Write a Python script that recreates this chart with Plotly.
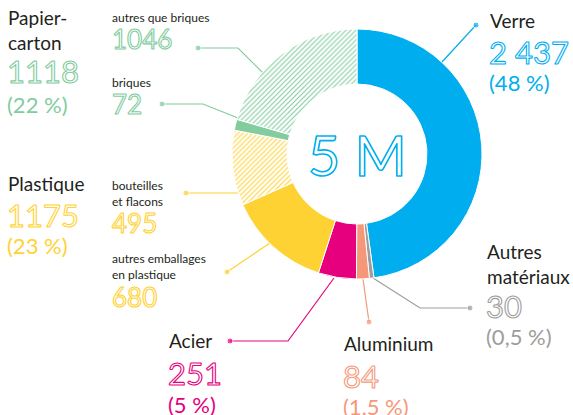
import plotly.graph_objects as go

# ---- data ----
categories = ["Verre", "Autres matériaux", "Aluminium", "Acier",
              "autres emballages en plastique", "bouteilles et flacons",
              "briques", "autres que briques"]
values = [2437, 30, 84, 251, 680, 495, 72, 1046]
value_labels = ["2 437", "30", "84", "251", "680", "495", "72", "1046"]
group_names = ["Papier-<br>carton", "Plastique"]
group_values = ["1118", "1175"]
group_pcts = ["(22 %)", "(23 %)"]
pct_labels = {"Verre": "(48 %)", "Autres matériaux": "(0,5 %)",
              "Aluminium": "(1,5 %)", "Acier": "(5 %)"}
center_label = "5 M"

# ---- styles ----
BLUE, GREY, SALMON, MAGENTA = "#00AEEF", "#9D9D9C", "#F5987A", "#E6007E"
YELLOW, GREEN = "#FFD233", "#82CC9E"
colors = [BLUE, GREY, SALMON, MAGENTA, YELLOW, YELLOW, GREEN, GREEN]
shapes = ["", "", "", "", "", "/", "", "/"]
DARK = "#231F20"
FONT = "Lato"

W, H = 573, 415
cx, cy, R = 357, 154, 125

fig = go.Figure()
fig.add_trace(go.Pie(
    values=values, labels=categories, sort=False, direction="clockwise",
    rotation=0, hole=0.56, textinfo="none", hoverinfo="skip",
    showlegend=False,
    marker=dict(colors=colors, line=dict(color="white", width=1),
                pattern=dict(shape=shapes, size=3.5, solidity=0.3)),
    domain=dict(x=[(cx - R) / W, (cx + R) / W],
                y=[1 - (cy + R) / H, 1 - (cy - R) / H]),
))

# leader lines: (points from dot to slice edge, colour)
leaders = [
    ([(476, 25), (442, 62)], BLUE),
    ([(470, 308), (420, 308), (373, 278)], GREY),
    ([(369, 322), (363, 279)], SALMON),
    ([(230, 341), (288, 341), (334, 278)], MAGENTA),
    ([(227, 272), (270, 243)], YELLOW),
    ([(186, 193), (238, 193)], YELLOW),
    ([(162, 104), (203, 104), (238, 118)], GREEN),
    ([(198, 48), (238, 48), (263, 73)], GREEN),
]
for pts, col in leaders:
    fig.add_trace(go.Scatter(
        x=[p[0] for p in pts], y=[p[1] for p in pts], mode="lines+markers",
        line=dict(color=col, width=1.2),
        marker=dict(color=col, size=[6] + [0] * (len(pts) - 1)),
        hoverinfo="skip", showlegend=False))

ann = []
def txt(x, y, s, size, color, anchor="left"):
    ann.append(dict(x=x, y=y, xref="x", yref="y", text=s, showarrow=False,
                    xanchor=anchor, yanchor="middle", align=anchor if anchor != "center" else "center",
                    font=dict(family=FONT, size=size, color=color)))

# Papier-carton group
txt(6, 30, group_names[0], 19, DARK)
txt(5, 71, group_values[0], 31, GREEN)
txt(5, 104, group_pcts[0], 22, GREEN)
txt(110, 17, categories[7], 12, DARK)
txt(110, 39, value_labels[7], 26, GREEN)
txt(110, 82, categories[6], 12, DARK)
txt(110, 104, value_labels[6], 26, GREEN)
# Plastique group
txt(6, 183, group_names[1], 19, DARK)
txt(5, 215, group_values[1], 31, YELLOW)
txt(5, 245, group_pcts[1], 22, YELLOW)
txt(110, 193, "bouteilles<br>et flacons", 12, DARK)
txt(110, 223, value_labels[5], 26, YELLOW)
txt(110, 266, "autres emballages<br>en plastique", 12, DARK)
txt(110, 297, value_labels[4], 26, YELLOW)
# Acier
txt(167, 340, categories[3], 19, DARK)
txt(166, 373, value_labels[3], 31, MAGENTA)
txt(166, 404, pct_labels["Acier"], 22, MAGENTA)
# Aluminium
txt(342, 343, categories[2], 19, DARK)
txt(341, 376, value_labels[2], 31, SALMON)
txt(341, 406, pct_labels["Aluminium"], 22, SALMON)
# Autres matériaux
txt(485, 264, "Autres<br>matériaux", 19, DARK)
txt(484, 306, value_labels[1], 31, GREY)
txt(484, 336, pct_labels["Autres matériaux"], 22, GREY)
# Verre
txt(488, 20, categories[0], 19, DARK)
txt(487, 52, value_labels[0], 31, BLUE)
txt(487, 82, pct_labels["Verre"], 22, BLUE)
# center
txt(cx, cy, center_label, 56, BLUE, anchor="center")

fig.update_layout(
    width=W, height=H, margin=dict(l=0, r=0, t=0, b=0),
    paper_bgcolor="white", plot_bgcolor="rgba(0,0,0,0)",
    xaxis=dict(range=[0, W], visible=False, fixedrange=True, domain=[0, 1]),
    yaxis=dict(range=[H, 0], visible=False, fixedrange=True, domain=[0, 1]),
    annotations=ann,
)

post = """
document.body.style.margin='0';
document.querySelectorAll('.annotation-text').forEach(function(t){
  var fs = parseFloat(t.style.fontSize);
  if (fs >= 24) {
    var c = t.style.fill;
    t.style.stroke = c;
    t.style.strokeWidth = (fs > 40 ? '1.6px' : '1.1px');
    t.style.strokeLinejoin = 'round';
    t.style.fill = 'white';
  }
});
"""
fig.write_html("out.html", post_script=post, config={"displayModeBar": False})
